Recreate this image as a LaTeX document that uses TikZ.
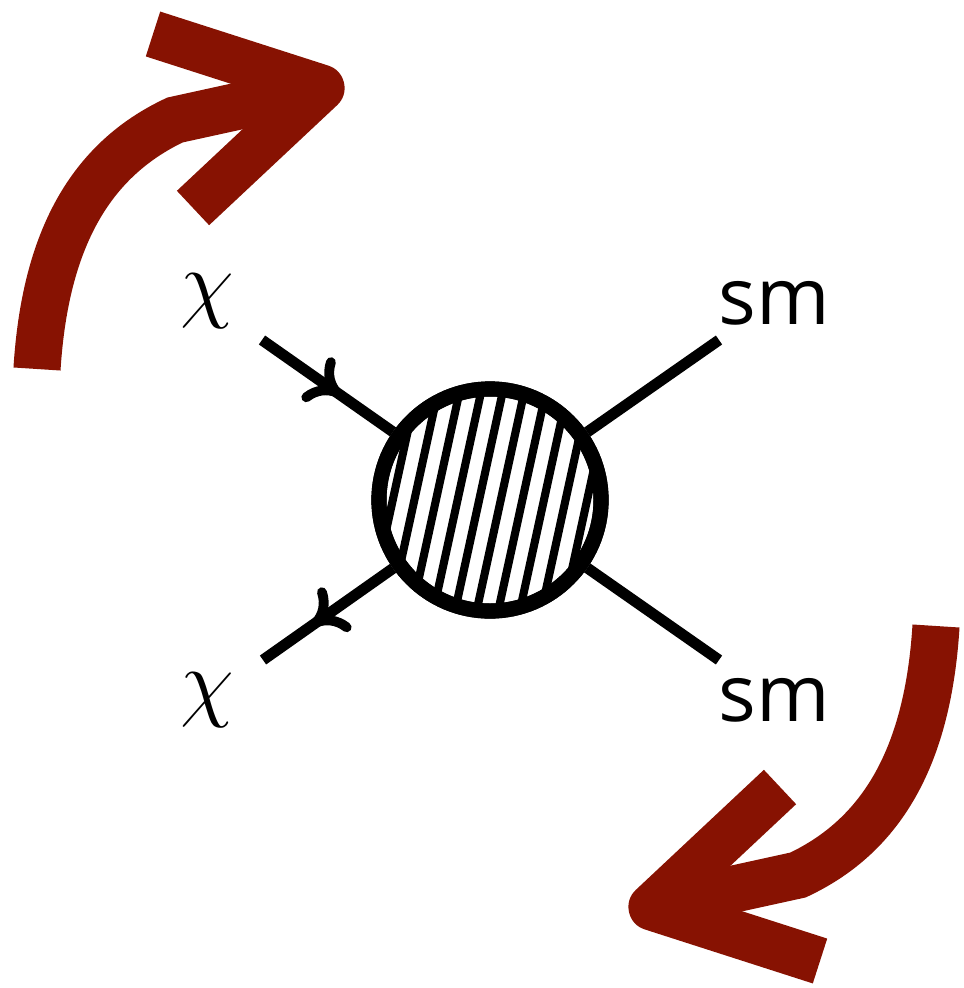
\documentclass[tikz,border=0pt]{standalone}
\usepackage{fontspec}
\newfontfamily\smfont{Open Sans}
\usepackage{tikz}
\usetikzlibrary{arrows.meta, decorations.markings}
\definecolor{arrowred}{RGB}{135,18,2}

\begin{document}
\begin{tikzpicture}[
    x=0.01cm, y=-0.01cm,
    leg/.style={
        line width=3.1pt,
        draw=black
    },
    fermion/.style={
        leg,
        postaction={decorate},
        decoration={markings,
            mark=at position #1 with {\arrow[line width=2.8pt]{To[length=9pt, width=15pt, round]}}}
    },
    fermion/.default=0.6,
    blob/.style={
        circle,
        draw=black,
        fill=white,
        line width=4.3pt,
        minimum size=2.22cm,
        inner sep=0pt
    },
    hatch/.style={
        line width=2.3pt,
        draw=black
    },
    chilab/.style={
        font=\fontsize{27}{30}\selectfont,
        inner sep=0pt
    },
    smlab/.style={
        font=\smfont\fontsize{22.5}{26}\selectfont,
        inner sep=0pt
    },
    bigarrow/.style={
        line width=13.4pt,
        draw=arrowred
    }
]
\useasboundingbox (0,0) rectangle (963,988);

% hatched blob
\node[blob] (blob) at (490,500) {};
\begin{scope}[shift={(490,500)}, rotate=-12.3]
    \clip (0,0) circle (104);
    \foreach \k in {-5,...,5}
        \draw[hatch] (\k*21.1+10.5,-130) -- (\k*21.1+10.5,130);
\end{scope}
\node[blob, fill=none] at (blob) {};

% external legs
\coordinate (inA) at (262,340);
\coordinate (outA) at (263,660);
\coordinate (smendA) at (719,340);
\coordinate (smendB) at (719,660);
\draw[fermion] (inA) -- (blob);
\draw[fermion=0.62] (blob) -- (outA);
\draw[leg] (blob) -- (smendA);
\draw[leg] (blob) -- (smendB);

% labels
\node[chilab] (chiA) at (207,301) {$\chi$};
\node[chilab] (chiB) at (207,700) {$\chi$};
\node[smlab] (smA) at (774,303) {sm};
\node[smlab] (smB) at (774,700) {sm};

% rotation arrows
\foreach \ang in {0,180} {
    \begin{scope}[rotate around={\ang:(486.5,497.5)}]
        \draw[bigarrow] (37,369) .. controls (45,240) and (90,160) .. (175,120) -- (321,88);
        \draw[bigarrow, line join=round] (153,34) -- (321,88) -- (193,208);
    \end{scope}
}
\end{tikzpicture}
\end{document}
